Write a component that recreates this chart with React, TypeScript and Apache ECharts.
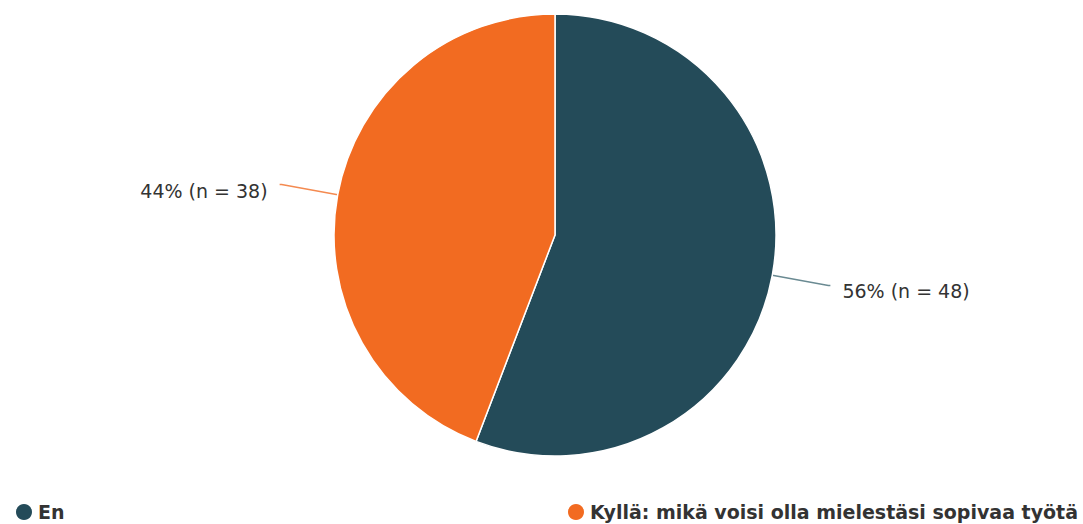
import React, { useEffect, useRef } from "react";
import * as echarts from "echarts";

const categories = ["En", "Kyllä: mikä voisi olla mielestäsi sopivaa työtä"];
const counts = [48, 38];
const percents = [56, 44];
const colors = ["#244b59", "#f26b21"];
const lineColors = ["#6a8a92", "#f48a50"];

export default function App() {
  const ref = useRef<HTMLDivElement>(null);
  useEffect(() => {
    document.body.style.margin = "0";
    const chart = echarts.init(ref.current!, null, { renderer: "svg" });
    const data = categories.map((name, i) => ({
      name,
      value: counts[i],
      itemStyle: { color: colors[i] },
      labelLine: { lineStyle: { color: lineColors[i] } },
    }));
    const legendCommon = {
      orient: "horizontal" as const,
      top: 502,
      icon: "circle",
      itemWidth: 18,
      itemHeight: 18,
      itemGap: 10,
      padding: 0,
      textStyle: { fontFamily: "DejaVu Sans, Verdana, sans-serif", fontSize: 19, fontWeight: "bold", color: "#333" },
    };
    chart.setOption({
      animation: false,
      backgroundColor: "#ffffff",
      legend: [
        { ...legendCommon, left: 14, data: [categories[0]] },
        { ...legendCommon, left: 566, data: [categories[1]] },
      ],
      series: [
        {
          type: "pie",
          center: [555, 235],
          radius: 221,
          startAngle: 90,
          clockwise: true,
          data,
          itemStyle: { borderColor: "#ffffff", borderWidth: 1.5 },
          label: {
            formatter: (p: any) => `${percents[p.dataIndex]}% (n = ${counts[p.dataIndex]})`,
            fontFamily: "DejaVu Sans, Verdana, sans-serif",
            fontSize: 19,
            color: "#333",
            distanceToLabelLine: 12,
          },
          labelLayout: { dy: 6 },
          labelLine: { length: 57, length2: 2, lineStyle: { width: 1.5 } },
        },
      ],
    });
    return () => chart.dispose();
  }, []);
  return <div ref={ref} style={{ position: "absolute", left: 0, top: 0, width: 1083, height: 524 }} />;
}
